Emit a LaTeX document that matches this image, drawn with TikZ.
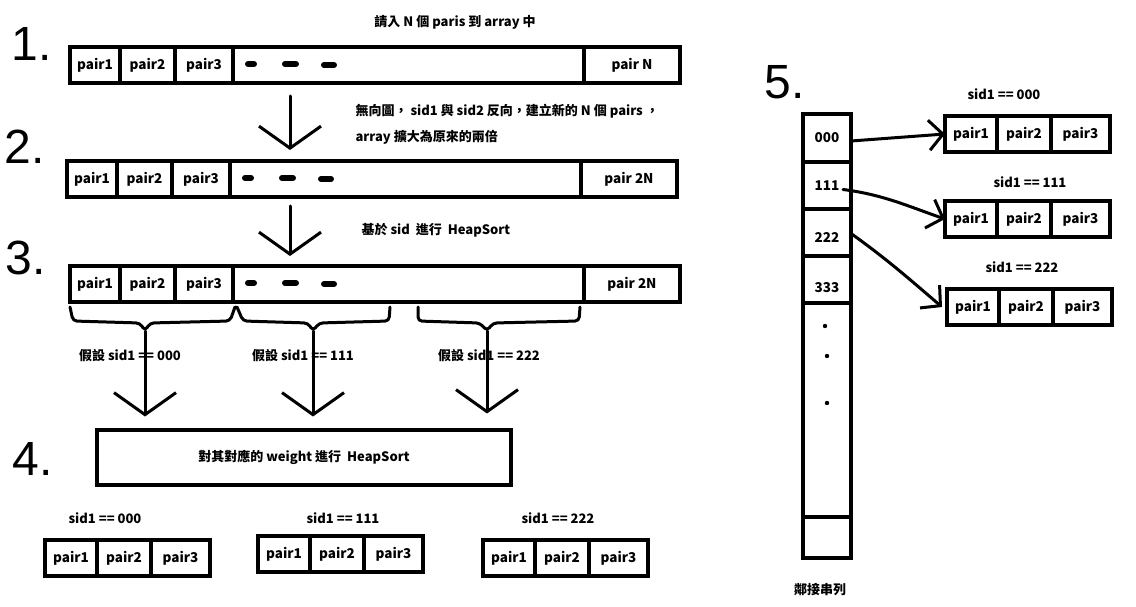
\documentclass[tikz,border=0pt]{standalone}
\usepackage{fontspec}
\setmainfont{Noto Sans CJK TC}
\newfontfamily\numfont{Liberation Sans}
\usetikzlibrary{positioning,arrows.meta}

\tikzset{
  cell/.style={draw,line width=4pt,minimum height=36pt,inner sep=0pt,outer sep=0pt,
    font=\bfseries\fontsize{13.5}{15}\selectfont},
  note/.style={font=\bfseries\fontsize{13}{15}\selectfont},
  stepnum/.style={font=\numfont\fontsize{48}{48}\selectfont},
  hand/.style={line width=3pt,line cap=round,line join=round},
  bigbarb/.style={hand,-{Straight Barb[length=22pt,width=62pt]}},
  smallbarb/.style={hand,-{Straight Barb[length=14pt,width=30pt]}},
  hyphen/.style={line width=6pt,line cap=round},
}

% long array: name, west x, centre y, last label
\newcommand{\bigarr}[4]{%
  \node[cell,minimum width=50pt,anchor=west] (#1a) at (#2,#3) {pair1};
  \node[cell,minimum width=55pt,right=0pt of #1a] (#1b) {pair2};
  \node[cell,minimum width=58pt,right=0pt of #1b] (#1c) {pair3};
  \node[cell,minimum width=351pt,right=0pt of #1c] (#1d) {};
  \node[cell,minimum width=96pt,right=0pt of #1d] (#1e) {#4};
  \draw[hyphen] ([xshift=15pt,yshift=1pt]#1d.west) -- ++(6,0);
  \draw[hyphen] ([xshift=52pt,yshift=1pt]#1d.west) -- ++(11,0);
  \draw[hyphen] ([xshift=91pt]#1d.west) -- ++(10,0);
}
% short array of three pairs: name, west x, centre y
\newcommand{\pairrow}[3]{%
  \node[cell,minimum width=52pt,anchor=west] (#1a) at (#2,#3) {pair1};
  \node[cell,minimum width=54pt,right=0pt of #1a] (#1b) {pair2};
  \node[cell,minimum width=59pt,right=0pt of #1b] (#1c) {pair3};
}

\begin{document}
\begin{tikzpicture}[x=1pt,y=-1pt]
\useasboundingbox (0,0) rectangle (1136,607);

% step numbers
\node[stepnum] (n1) at (32,44) {1.};
\node[stepnum] (n2) at (25,147) {2.};
\node[stepnum] (n3) at (26,258) {3.};
\node[stepnum] (n4) at (33,459) {4.};
\node[stepnum] (n5) at (785,82) {5.};

% steps 1 to 3
\node[note] (t1) at (455,22) {請入 N 個 paris 到 array 中};
\bigarr{a1}{70}{65}{pair N}
\node[note,anchor=west,align=left] (t2) at (352,124)
  {無向圖， sid1 與 sid2 反向，建立新的 N 個 pairs ，\\[11pt]array 擴大為原來的兩倍};
\bigarr{a2}{67}{179}{pair 2N}
\node[note,anchor=west] (t3) at (358,230) {基於 sid~~進行~~HeapSort};
\bigarr{a3}{70}{284}{pair 2N}

\draw[bigbarb] ([xshift=57pt,yshift=-13pt]a1d.south west) -- ([xshift=60pt,yshift=11pt]a2d.north west);
\draw[bigbarb] ([xshift=60pt,yshift=-9pt]a2d.south west) -- ([xshift=57pt,yshift=10pt]a3d.north west);

% groups by sid1
\node[note] (g1) at (130,356) {假設 sid1 == 000};
\node[note] (g2) at (303,356) {假設 sid1 == 111};
\node[note] (g3) at (489,356) {假設 sid1 == 222};

\draw[hand,rounded corners=4pt] ([yshift=-5pt]a3a.south west) -- ++(3,14) -- ++(67,2)
  -- ++(5,8) coordinate (b1) -- ++(5,-8) -- ++(80,-2) -- ++(5,-14);
\draw[hand,rounded corners=4pt] ([xshift=4pt,yshift=-5pt]a3c.south east) -- ++(6,14) -- ++(65,2)
  -- ++(5,8) coordinate (b2) -- ++(6,-8) -- ++(70,-2) -- ++(1,-14);
\draw[hand,rounded corners=4pt] ([xshift=185pt,yshift=-5pt]a3d.south west) -- ++(0,14) -- ++(62,2)
  -- ++(7,8) coordinate (b3) -- ++(6,-8) -- ++(86,-2) -- ++(1,-14);

% step 4
\node[draw,line width=4pt,minimum width=414pt,minimum height=55pt,outer sep=0pt,note]
  (box4) at (304,457) {對其對應的 weight 進行~~HeapSort};

\draw[bigbarb,shorten >=13pt] (b1) -- (b1 |- box4.north);
\draw[bigbarb,shorten >=13pt] (b2) -- (b2 |- box4.north);
\draw[bigbarb,shorten >=16pt] (b3) -- (b3 |- box4.north);

\node[note] (s1) at (105,518) {sid1 == 000};
\node[note] (s2) at (343,518) {sid1 == 111};
\node[note] (s3) at (558,518) {sid1 == 222};
\pairrow{p1}{45}{558}
\pairrow{p2}{258}{554}
\pairrow{p3}{483}{558}

% step 5: adjacency list
\node[cell,minimum width=48pt,minimum height=48pt,anchor=north] (c0) at (827,114) {000};
\node[cell,minimum width=48pt,minimum height=47pt,below=0pt of c0] (c1) {111};
\node[cell,minimum width=48pt,minimum height=47pt,below=0pt of c1] (c2) {};
\node[cell,minimum width=48pt,minimum height=47pt,below=0pt of c2] (c3) {};
\node[cell,minimum width=48pt,minimum height=214pt,below=0pt of c3] (c4) {};
\node[cell,minimum width=48pt,minimum height=41pt,below=0pt of c4] (c5) {};
\node[cell,draw=none] (c2t) at ([yshift=-5pt]c2.center) {222};
\node[cell,draw=none] (c3t) at ([yshift=-8pt]c3.center) {333};
\fill ([xshift=-2pt,yshift=-23pt]c4.north) circle (2.2pt);
\fill ([yshift=-53pt]c4.north) circle (2.2pt);
\fill ([yshift=-100pt]c4.north) circle (2.2pt);
\node[note] (adj) at (820,590) {鄰接串列};

\node[note] (r1t) at (1004,94) {sid1 == 000};
\node[note] (r2t) at (1030,182) {sid1 == 111};
\node[note] (r3t) at (1022,267) {sid1 == 222};
\pairrow{r1}{945}{134}
\pairrow{r2}{945}{219}
\pairrow{r3}{947}{307}

\draw[smallbarb] ([yshift=-3pt]c0.east) -- (r1a.west);
\draw[smallbarb] ([xshift=-8pt,yshift=-4pt]c1.east) .. controls +(40,5) and +(-35,-12) .. (r2a.west);
\draw[smallbarb] ([yshift=-1pt]c2.east) .. controls +(35,25) and +(-35,-30) .. ([xshift=-5pt]r3a.west);
\end{tikzpicture}
\end{document}
